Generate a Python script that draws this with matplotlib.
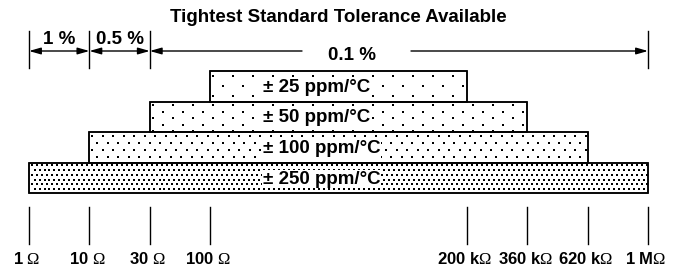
import numpy as np
import matplotlib.pyplot as plt

plt.rcParams['font.family'] = ['Liberation Sans', 'DejaVu Sans']
plt.rcParams['mathtext.fontset'] = 'custom'
plt.rcParams['mathtext.rm'] = 'Liberation Serif'

# resistance scale (not to scale: gap between 100 ohm and 200 kohm)
res_labels = ['1 $\\Omega$', '10 $\\Omega$', '30 $\\Omega$', '100 $\\Omega$',
              '200 k$\\Omega$', '360 k$\\Omega$', '620 k$\\Omega$', '1 M$\\Omega$']
res_pos = [0, 1, 2, 3, 7.25, 8.25, 9.25, 10.25]

# TCR bands: index of start / end resistance
tc_labels = ['± 25 ppm/°C', '± 50 ppm/°C', '± 100 ppm/°C', '± 250 ppm/°C']
tc_start = [3, 2, 1, 0]
tc_end = [4, 5, 6, 7]

# tolerance ranges
tol_labels = ['1 %', '0.5 %', '0.1 %']
tol_start = [0, 1, 2]
tol_end = [1, 2, 7]

# dot texture per band: (period px, row step px, row offset px)
dot_style = [(20, 10, 10), (20, 6.5, 10), (10.5, 7, 5), (5, 4.8, 2.5)]

FS = 13.5

fig = plt.figure(figsize=(6.82, 2.68), dpi=100)
ax = fig.add_axes([0, 0, 1, 1])
unit = 619 / 10.25
ax.set_xlim(-29 / unit, (682 - 29) / unit)
ax.set_ylim(268, 0)
ax.axis('off')


def dot_fill(ax, x0, x1, ytop, ybot, period, step, offset):
    xs, ys = [], []
    for k, yy in enumerate(np.arange(ytop + step / 2, ybot, step)):
        start = x0 + ((offset * (k % 2)) + 3) / unit
        row = np.arange(start, x1 - 1 / unit, period / unit)
        xs.extend(row)
        ys.extend([yy] * len(row))
    ax.scatter(xs, ys, s=3.0, marker='s', color='black', linewidths=0, zorder=2)


row_h = 30.5
for i, lab in enumerate(tc_labels):
    y = 86.5 + i * row_h
    x0, x1 = res_pos[tc_start[i]], res_pos[tc_end[i]]
    ax.barh(y, x1 - x0, left=x0, height=row_h, facecolor='white',
            edgecolor='black', linewidth=1.1, zorder=1)
    dot_fill(ax, x0, x1, y - row_h / 2, y + row_h / 2, *dot_style[i])
    ax.barh(y, x1 - x0, left=x0, height=row_h, facecolor='none',
            edgecolor='black', linewidth=1.1, zorder=3)
    ax.text((263 - 29) / unit, y + 1, lab, ha='left', va='center', fontsize=FS,
            fontweight='bold', zorder=4,
            bbox=dict(facecolor='white', edgecolor='none', pad=0.6))

fig.text(338 / 682, 1 - 18 / 268, 'Tightest Standard Tolerance Available',
         ha='center', va='center', fontsize=FS, fontweight='bold')

# tolerance markers
for p in [res_pos[0], res_pos[1], res_pos[2], res_pos[7]]:
    ax.plot([p, p], [31, 68], color='black', lw=1)

arrow = dict(arrowstyle='-|>,head_length=0.7,head_width=0.2', color='black', lw=1,
             shrinkA=0, shrinkB=0)
for i, lab in enumerate(tol_labels):
    x0, x1 = res_pos[tol_start[i]], res_pos[tol_end[i]]
    if i < 2:
        ax.annotate('', xy=(x0, 51), xytext=(x1, 51),
                    arrowprops=dict(arrowstyle='<|-|>,head_length=0.7,head_width=0.2',
                                    color='black', lw=1, shrinkA=0, shrinkB=0))
        ax.text((x0 + x1) / 2, 40, lab, ha='center', va='center',
                fontsize=FS, fontweight='bold')
    else:
        xm = (352 - 29) / unit
        ax.annotate('', xy=(x0, 51), xytext=((302 - 29) / unit, 51), arrowprops=arrow)
        ax.annotate('', xy=(x1, 51), xytext=((411 - 29) / unit, 51), arrowprops=arrow)
        ax.text(xm, 55, lab, ha='center', va='center', fontsize=FS, fontweight='bold')

# resistance ticks and labels
for p, lab in zip(res_pos, res_labels):
    ax.plot([p, p], [207, 244], color='black', lw=1)
    ax.text(p - 2 / unit, 259, lab, ha='center', va='center', fontsize=12,
            fontweight='bold')

fig.savefig('out.png', dpi=100)
